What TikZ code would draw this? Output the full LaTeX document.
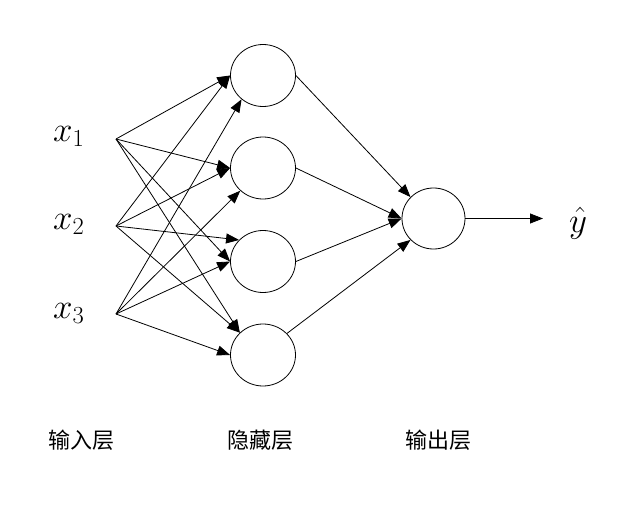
\RequirePackage{fix-cm}
\documentclass[tikz,border=0pt]{standalone}
\usepackage{fontspec}
\newfontfamily\cjk{Noto Sans CJK SC}
\usetikzlibrary{arrows.meta,shapes.geometric}
\begin{document}
\begin{tikzpicture}[x=1pt,y=-1pt,
  neuron/.style={draw,ellipse,line width=0.8pt,minimum width=65pt,minimum height=62pt,inner sep=0pt},
  conn/.style={line width=0.8pt,-{Triangle[length=13pt,width=10pt]}},
  varlabel/.style={anchor=base west,inner sep=0pt,font=\fontsize{35}{42}\selectfont},
  layerlabel/.style={inner sep=0pt,font=\cjk\fontsize{22}{26}\selectfont}]
\useasboundingbox (0,0) rectangle (622,514);
% input points
\coordinate (i1) at (116,139);
\coordinate (i2) at (116,226);
\coordinate (i3) at (116,314);
\node[varlabel] (lx1) at (53,141) {$x_1$};
\node[varlabel] (lx2) at (53,229) {$x_2$};
\node[varlabel] (lx3) at (53,318) {$x_3$};
% hidden
\node[neuron] (h1) at (263,75.5) {};
\node[neuron] (h2) at (263,168) {};
\node[neuron] (h3) at (263,261.5) {};
\node[neuron] (h4) at (263,355) {};
% output
\node[neuron,minimum width=63pt,minimum height=61pt] (o) at (433.5,218.5) {};
\coordinate (yend) at (543,218.5);
\node[varlabel] (ly) at (569,232) {$\hat{y}$};
% input -> hidden
\draw[conn] (i1) -- (h1.180);
\draw[conn] (i2) -- (h1.180);
\draw[conn] (i3) -- (h1.228);
\draw[conn] (i1) -- (h2.180);
\draw[conn] (i2) -- (h2.180);
\draw[conn] (i3) -- (h2.225);
\draw[conn] (i2) -- (h3.138);
\draw[conn] (i1) -- (h3.180);
\draw[conn] (i3) -- (h3.180);
\draw[conn] (i1) -- (h4.136);
\draw[conn] (i2) -- (h4.136);
\draw[conn] (i3) -- (h4.180);
% hidden -> output
\draw[conn] (h1.0) -- (o.137);
\draw[conn] (h2.0) -- (o.180);
\draw[conn] (h3.0) -- (o.180);
\draw[conn] (h4.42) -- (o.223);
\draw[conn] (o.0) -- (yend);
% layer labels
\node[layerlabel] (l1) at (81.5,440) {输入层};
\node[layerlabel] (l2) at (260.5,440) {隐藏层};
\node[layerlabel] (l3) at (438.5,440) {输出层};
\end{tikzpicture}
\end{document}
